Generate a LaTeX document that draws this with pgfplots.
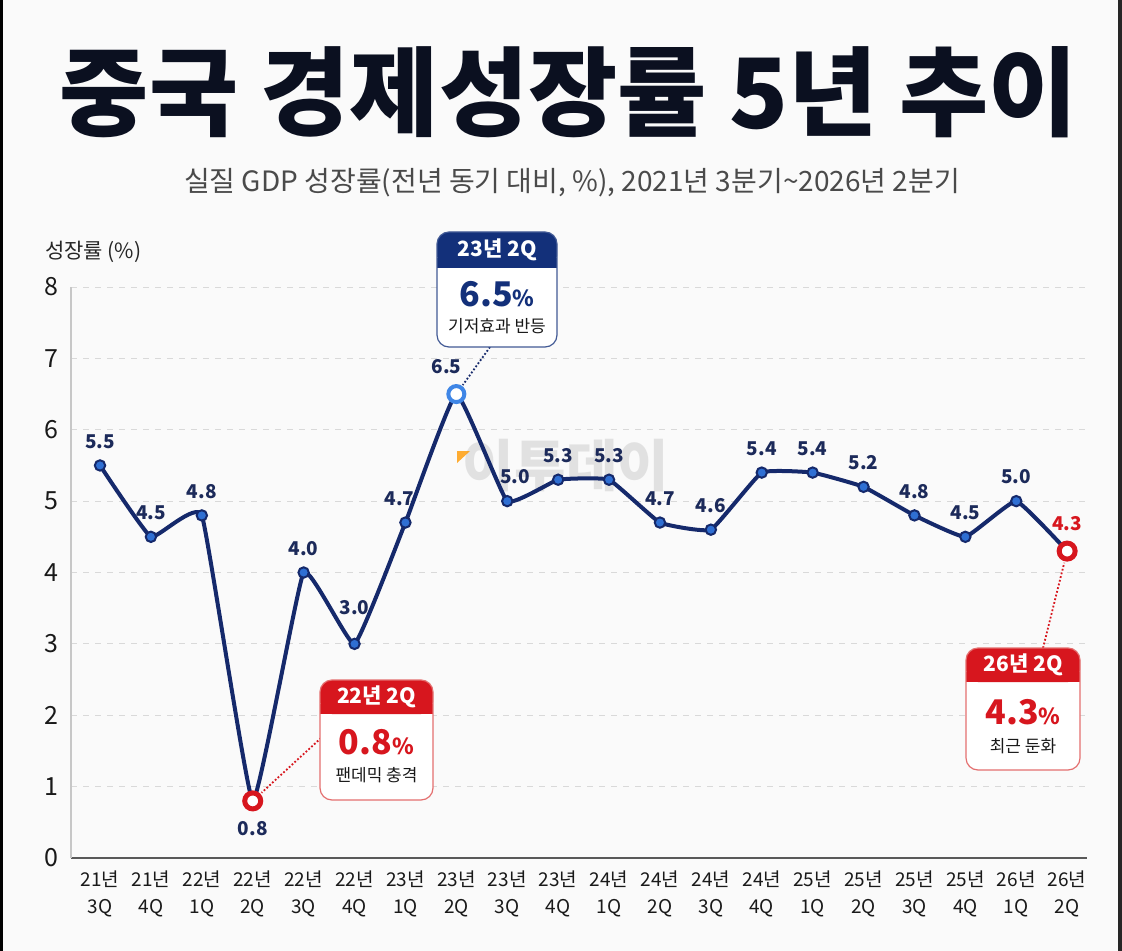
\documentclass[border=0pt]{standalone}
\usepackage{pgfplots}
\pgfplotsset{compat=1.18}
\usepackage{pgfplotstable}
\usepackage{fontspec}
\setmainfont{Noto Sans CJK KR}
\definecolor{navy}{HTML}{15296B}
\definecolor{navyhead}{HTML}{13307A}
\definecolor{markfill}{HTML}{2F6FD3}
\definecolor{lblue}{HTML}{3F86E6}
\definecolor{cred}{HTML}{D7161E}
\definecolor{redborder}{HTML}{E46F6F}
\definecolor{gridc}{HTML}{D9D9D9}
\definecolor{titlec}{HTML}{0B1020}
\definecolor{subc}{HTML}{4A4A4A}
\definecolor{lblc}{HTML}{1C2A5A}

\pgfplotstableread{
x y label
0 5.5 5.5
1 4.5 4.5
2 4.8 4.8
3 0.8 0.8
4 4.0 4.0
5 3.0 3.0
6 4.7 4.7
7 6.5 6.5
8 5.0 5.0
9 5.3 5.3
10 5.3 5.3
11 4.7 4.7
12 4.6 4.6
13 5.4 5.4
14 5.4 5.4
15 5.2 5.2
16 4.8 4.8
17 4.5 4.5
18 5.0 5.0
19 4.3 4.3
}\gdp

\pgfplotstableread{
x y label dx dy
0 5.5 5.5 0 8
1 4.5 4.5 0 8
2 4.8 4.8 0 8
4 4.0 4.0 0 8
5 3.0 3.0 0 14
6 4.7 4.7 -3 8
8 5.0 5.0 4 8
9 5.3 5.3 0 8
10 5.3 5.3 0 8
11 4.7 4.7 0 8
12 4.6 4.6 0 8
13 5.4 5.4 0 8
14 5.4 5.4 0 8
15 5.2 5.2 0 8
16 4.8 4.8 0 8
17 4.5 4.5 0 8
18 5.0 5.0 0 8
}\normalpts

\pgfplotstableread{
x y label
7 6.5 6.5
}\peakpt

\pgfplotstableread{
x y label
3 0.8 0.8
}\lowpt

\pgfplotstableread{
x y label
19 4.3 4.3
}\lastpt

\begin{document}
\begin{tikzpicture}
\begin{scope}[x=0.5pt,y=-0.5pt]
\path[use as bounding box, fill=white!98!black] (0,0) rectangle (1122,951);
\fill[black] (0,0) rectangle (3,951);
\fill[black!85] (1118,0) rectangle (1122,951);
\node[font=\fontsize{48.5}{52}\selectfont\bfseries, text=titlec] at (569,92) {중국 경제성장률 5년 추이};
\node[font=\fontsize{14}{16}\selectfont, text=subc] at (572,183) {실질 GDP 성장률(전년 동기 대비, \%), 2021년 3분기\textasciitilde 2026년 2분기};
\node[font=\fontsize{10.5}{12}\selectfont, text=black!85, anchor=west] at (38,252) {성장률 (\%)};
% watermark
\node[font=\fontsize{28}{30}\selectfont\bfseries, text=black!40, opacity=0.25] at (566,466) {이투데이};
\fill[orange!80!yellow, opacity=0.8] (457,451) -- (470,451) -- (457,463) -- cycle;
\end{scope}

\begin{axis}[
  at={(35.5pt,-429pt)}, anchor=south west,
  scale only axis, width=508pt, height=285.5pt,
  xmin=-0.57, xmax=19.39, ymin=0, ymax=8,
  axis lines*=left,
  x axis line style={draw=black!65, line width=0.8pt},
  y axis line style={draw=black!22, line width=0.6pt},
  ytick={0,1,...,8},
  xtick={0,1,...,19},
  xticklabels={{21년\\3Q},{21년\\4Q},{22년\\1Q},{22년\\2Q},{22년\\3Q},{22년\\4Q},{23년\\1Q},{23년\\2Q},{23년\\3Q},{23년\\4Q},{24년\\1Q},{24년\\2Q},{24년\\3Q},{24년\\4Q},{25년\\1Q},{25년\\2Q},{25년\\3Q},{25년\\4Q},{26년\\1Q},{26년\\2Q}},
  xticklabel style={align=center, font=\fontsize{9.5}{13.5}\selectfont, text=black!90, yshift=-3pt},
  yticklabel style={font=\fontsize{12.5}{14}\selectfont, text=black!90, xshift=-3pt},
  /pgf/number format/assume math mode=true,
  major tick length=0pt,
  ymajorgrids, grid style={dashed, draw=gridc, line width=0.5pt},
  clip=false,
]
\addplot[navy, line width=2pt, smooth, tension=0.2, no marks] table[x=x,y=y] {\gdp};
\addplot[only marks, mark=*, mark size=2.6pt, mark options={fill=markfill, draw=navy, line width=1pt},
  nodes near coords, point meta=explicit symbolic,
  visualization depends on={\thisrow{dx}\as\dx},
  visualization depends on={\thisrow{dy}\as\dy},
  every node near coord/.style={font=\fontsize{9.5}{11}\selectfont\bfseries, text=lblc, anchor=south, inner sep=0pt, yshift=\dy pt, xshift=\dx pt}]
  table[x=x,y=y,meta=label] {\normalpts};
\addplot[only marks, mark=*, mark size=4pt, mark options={fill=white, draw=lblue, line width=2pt},
  nodes near coords, point meta=explicit symbolic,
  every node near coord/.style={font=\fontsize{9.5}{11}\selectfont\bfseries, text=lblc, anchor=south, inner sep=0pt, yshift=9pt, xshift=-5pt}]
  table[x=x,y=y,meta=label] {\peakpt};
\addplot[only marks, mark=*, mark size=4pt, mark options={fill=white, draw=cred, line width=2.5pt},
  nodes near coords, point meta=explicit symbolic,
  every node near coord/.style={font=\fontsize{9.5}{11}\selectfont\bfseries, text=lblc, anchor=north, inner sep=0pt, yshift=-9pt}]
  table[x=x,y=y,meta=label] {\lowpt};
\addplot[only marks, mark=*, mark size=4pt, mark options={fill=white, draw=cred, line width=2.5pt},
  nodes near coords, point meta=explicit symbolic,
  every node near coord/.style={font=\fontsize{9.5}{11}\selectfont\bfseries, text=cred, anchor=south, inner sep=0pt, yshift=9pt}]
  table[x=x,y=y,meta=label] {\lastpt};
\coordinate (p7) at (axis cs:7,6.5);
\coordinate (p3) at (axis cs:3,0.8);
\coordinate (p19) at (axis cs:19,4.3);
\end{axis}

\begin{scope}[x=0.5pt,y=-0.5pt]
% connectors
\draw[navy, densely dotted, line width=0.9pt, shorten >=5.5pt] (490,347) -- (p7);
\draw[cred, densely dotted, line width=0.9pt, shorten >=6pt] (321,738) -- (p3);
\draw[cred, densely dotted, line width=0.9pt, shorten >=6pt] (1043,648) -- (p19);
% box 1
\fill[white, rounded corners=6] (437,232) rectangle (557,347);
\fill[navyhead, rounded corners=6] (437,232) rectangle (557,268);
\fill[navyhead] (437,258) rectangle (557,268);
\draw[navyhead!80, line width=0.6pt, rounded corners=6] (437,232) rectangle (557,347);
\node[font=\fontsize{10.5}{12}\selectfont\bfseries, text=white] at (497,250) {23년 2Q};
\node[text=navyhead, inner sep=0pt] at (497,294) {{\fontsize{17}{18}\selectfont\bfseries 6.5}{\fontsize{11}{12}\selectfont\bfseries\%}};
\node[font=\fontsize{8.5}{10}\selectfont, text=black!90] at (497,326) {기저효과 반등};
% box 2
\fill[white, rounded corners=6] (320,680) rectangle (433,800);
\fill[cred, rounded corners=6] (320,680) rectangle (433,714);
\fill[cred] (320,704) rectangle (433,714);
\draw[redborder, line width=0.6pt, rounded corners=6] (320,680) rectangle (433,800);
\node[font=\fontsize{10.5}{12}\selectfont\bfseries, text=white] at (376.5,697) {22년 2Q};
\node[text=cred, inner sep=0pt] at (376.5,742) {{\fontsize{17}{18}\selectfont\bfseries 0.8}{\fontsize{11}{12}\selectfont\bfseries\%}};
\node[font=\fontsize{8.5}{10}\selectfont, text=black!90] at (376.5,775) {팬데믹 충격};
% box 3
\fill[white, rounded corners=6] (966,648) rectangle (1080,770);
\fill[cred, rounded corners=6] (966,648) rectangle (1080,682);
\fill[cred] (966,672) rectangle (1080,682);
\draw[redborder, line width=0.6pt, rounded corners=6] (966,648) rectangle (1080,770);
\node[font=\fontsize{10.5}{12}\selectfont\bfseries, text=white] at (1023,665) {26년 2Q};
\node[text=cred, inner sep=0pt] at (1023,712) {{\fontsize{17}{18}\selectfont\bfseries 4.3}{\fontsize{11}{12}\selectfont\bfseries\%}};
\node[font=\fontsize{8.5}{10}\selectfont, text=black!90] at (1023,746) {최근 둔화};
\end{scope}
\end{tikzpicture}
\end{document}
